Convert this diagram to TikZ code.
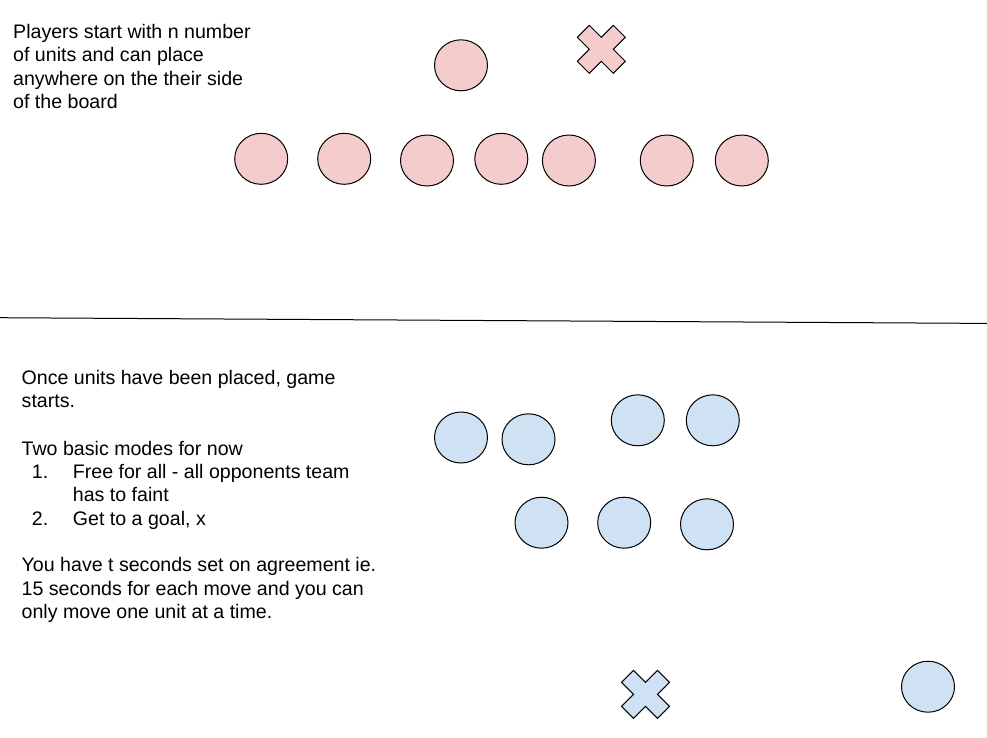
\documentclass[tikz,border=0pt]{standalone}
\usepackage{fontspec}
\setmainfont{Liberation Sans}
\usetikzlibrary{shapes.geometric}
\definecolor{pinkfill}{HTML}{F4CCCC}
\definecolor{bluefill}{HTML}{CFE2F3}
\tikzset{
  unit/.style={ellipse, draw=black, line width=1pt, minimum width=53pt, minimum height=51pt, inner sep=0pt},
  redunit/.style={unit, fill=pinkfill},
  blueunit/.style={unit, fill=bluefill},
  % anchor base = baseline of the LAST line of a multi-line node
  txt/.style={anchor=base west, align=left, inner sep=0pt, text=black,
              font=\fontsize{19.6pt}{23.5pt}\selectfont},
  xcross/.pic={\draw[pic actions, line width=1pt, line join=miter]
     (-24,-12) -- (-12,-24) -- (0,-12) -- (12,-24) -- (24,-12) -- (12,0) --
     (24,12) -- (12,24) -- (0,12) -- (-12,24) -- (-24,12) -- (-12,0) -- cycle;}
}
\begin{document}
\begin{tikzpicture}[x=1pt, y=-1pt]
\useasboundingbox (0,0) rectangle (987,737);
% divider line
\coordinate (divL) at (0,317.7);
\coordinate (divR) at (987,323.4);
\draw[line width=1pt, black] (divL) -- (divR);

% top text (positioned at baseline of its last line)
\node[txt] (toptext) at (13,108.8) {Players start with n number\\of units and can place\\anywhere on the their side\\of the board};

% top units
\node[redunit] (r0) at (461,65.3) {};
\pic[fill=pinkfill, draw=black] (goalTop) at (601.3,49.3) {xcross};
\node[redunit] (r1) at (261.2,158.8) {};
\node[redunit] (r2) at (344.2,158.8) {};
\node[redunit] (r3) at (427,160.5) {};
\node[redunit] (r4) at (501.3,158.8) {};
\node[redunit] (r5) at (568.9,160.5) {};
\node[redunit] (r6) at (666.8,160.5) {};
\node[redunit] (r7) at (741.8,160.5) {};

% bottom text
\node[txt] (once) at (21.5,407.5) {Once units have been placed, game\\starts.};
\node[txt] (modes) at (21.5,455) {Two basic modes for now};
\node[txt] (n1) at (31.7,478.3) {1.};
\node[txt] (item1) at (72.7,501.8) {Free for all - all opponents team\\has to faint};
\node[txt] (n2) at (31.7,525) {2.};
\node[txt] (item2) at (72.7,525) {Get to a goal, x};
\node[txt] (timing) at (21.5,618.7) {You have t seconds set on agreement ie.\\15 seconds for each move and you can\\only move one unit at a time.};

% bottom units
\node[blueunit] (b1) at (461,437.5) {};
\node[blueunit] (b2) at (528.5,439.3) {};
\node[blueunit] (b3) at (637.8,420.3) {};
\node[blueunit] (b4) at (712.8,420.3) {};
\node[blueunit] (b5) at (541.5,522.7) {};
\node[blueunit] (b6) at (624.2,522.7) {};
\node[blueunit] (b7) at (707,524.3) {};
\node[blueunit] (b8) at (928,686.7) {};
\pic[fill=bluefill, draw=black] (goalBottom) at (645.5,694.3) {xcross};
\end{tikzpicture}
\end{document}
